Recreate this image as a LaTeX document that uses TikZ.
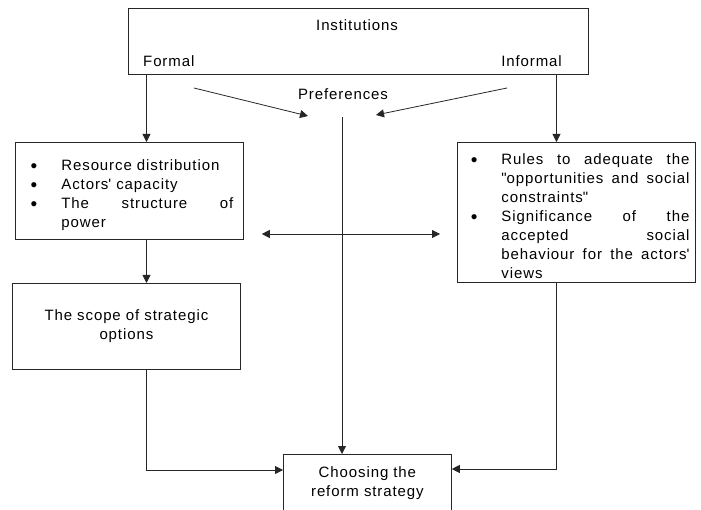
\documentclass[tikz,border=0pt]{standalone}
\usepackage{fontspec}
\setmainfont{Liberation Sans}[LetterSpace=6]
\usetikzlibrary{arrows.meta,calc}

\newcommand{\bul}[2][36pt]{\par\noindent\hangindent=#1\hangafter=1\makebox[#1][r]{\raisebox{-1.8pt}{\fontsize{19}{19}\selectfont\textbullet}\hspace{24pt}}#2\par}

\begin{document}
\begin{tikzpicture}[x=1pt,y=-1pt,
  every node/.style={font=\fontsize{15}{19}\selectfont,inner sep=3pt},
  box/.style={draw=black!85,line width=0.8pt,rectangle,inner sep=0pt},
  arr/.style={-{Triangle[length=8pt,width=8pt]},draw=black!85,line width=0.8pt},
  dbl/.style={{Triangle[length=8pt,width=8pt]}-{Triangle[length=8pt,width=8pt]},draw=black!85,line width=0.8pt}]
\useasboundingbox (0,0) rectangle (701,510);
\clip (0,0) rectangle (701,510);

%boxes
\node[box,anchor=north west,minimum width=460,minimum height=66] (inst) at (128,8) {};
\node[box,anchor=north west,inner xsep=10pt,text width=208pt,minimum height=97,align=justify] (res) at (15,142)
  {\bul{Resource distribution}\bul{Actors\textquotesingle\ capacity}\bul{The structure of\linebreak power}\vspace{6pt}};
\node[box,anchor=north west,inner xsep=6pt,text width=226pt,minimum height=140,align=justify] (rul) at (457,142)
  {\bul[38pt]{Rules to adequate the\linebreak \textquotedbl opportunities and social\linebreak constraints\textquotedbl}%
   \bul[38pt]{Significance of the\linebreak accepted social\linebreak behaviour for the actors\textquotesingle\linebreak views}\vspace{3pt}};
\node[box,anchor=north west,minimum width=228,minimum height=86,align=center] (scope) at (12,283) {The scope of strategic\\options};
\node[box,anchor=north west,minimum width=168,minimum height=58,align=center] (choose) at (283,454) {Choosing the\\reform strategy};

%labels
\node[] (insttxt) at (357,25) {Institutions};
\node[anchor=west] (formal) at (140,61) {Formal};
\node[anchor=east] (informal) at (565,61) {Informal};
\node[] (pref) at (343,94) {Preferences};

\coordinate (fx) at (146.5,0);
\coordinate (ix) at (556.5,0);
\coordinate (px) at (342,117);
\coordinate (hy) at (0,234);
\coordinate (dl) at (194,88);
\coordinate (dlt) at (308,116);
\coordinate (dr) at (507,88);
\coordinate (drt) at (376,115);

%arrows
\draw[arr] (inst.south -| fx) -- (res.north -| fx);
\draw[arr] (inst.south -| ix) -- (rul.north -| ix);
\draw[arr] (dl) -- (dlt);
\draw[arr] (dr) -- (drt);
\draw[arr] (px) -- (px |- choose.north);
\draw[dbl] ($(res.east |- hy)+(18,0)$) -- ($(rul.west |- hy)+(-17,0)$);
\draw[arr] (res.south -| fx) -- (scope.north -| fx);
\draw[arr] (scope.south -| fx) |- ([yshift=-16pt]choose.north west);
\draw[arr] (rul.south -| ix) |- ([yshift=-15pt]choose.north east);

\end{tikzpicture}
\end{document}
